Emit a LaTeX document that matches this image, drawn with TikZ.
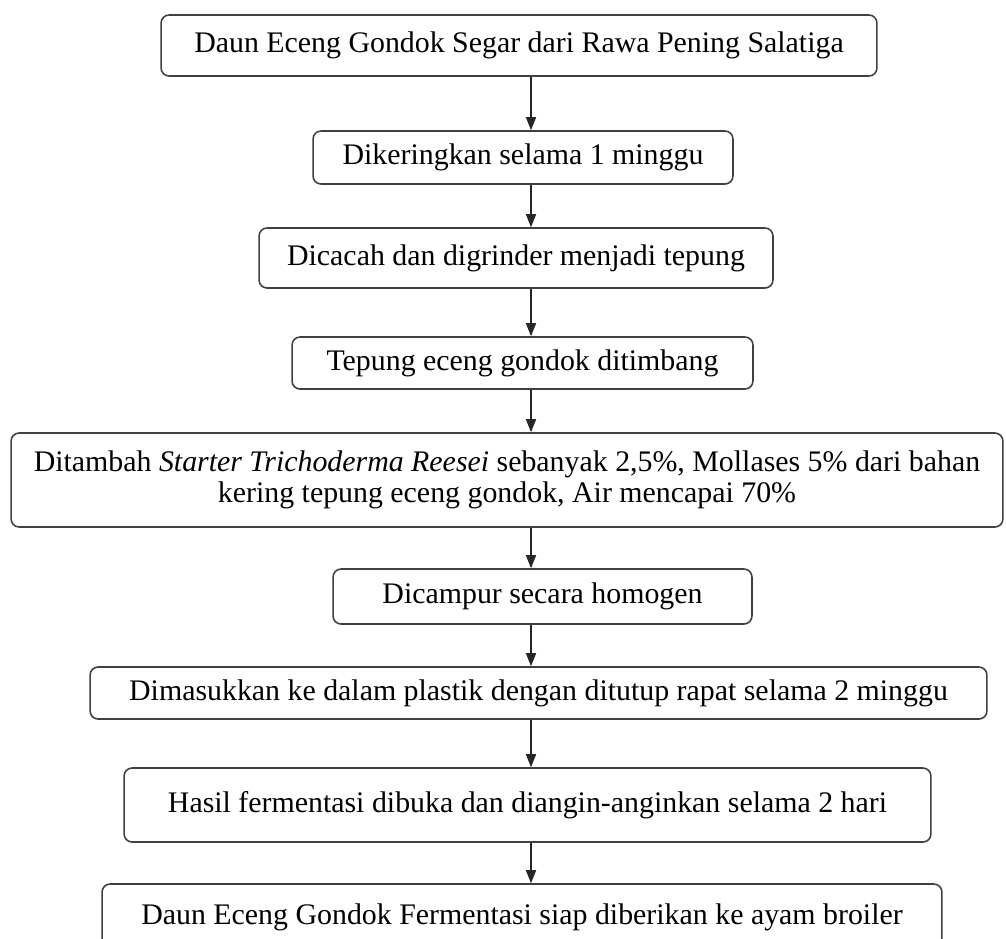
\documentclass[tikz,border=0pt]{standalone}
\usepackage{fontspec}
\setmainfont{Liberation Serif}
\usepackage{tikz}
\usetikzlibrary{arrows.meta,positioning}

\begin{document}
\begin{tikzpicture}[
  x=0.02cm, y=-0.02cm,
  box/.style={draw=black!75, line width=0.9pt, rounded corners=0.16cm, align=center,
    inner sep=0pt, font=\fontsize{17}{17.5}\selectfont},
  arrow/.style={-{Triangle[length=0.26cm, width=0.2cm]}, draw=black!85, line width=0.9pt}
]
\useasboundingbox (0,0) rectangle (1006,938);

\node[box, minimum width=14.32cm, minimum height=1.22cm] (segar) at (519,45.5)
  {Daun Eceng Gondok Segar dari Rawa Pening Salatiga};
\node[box, minimum width=8.40cm, minimum height=1.06cm] (kering) at (523,157.5)
  {Dikeringkan selama 1 minggu};
\node[box, minimum width=10.28cm, minimum height=1.20cm] (cacah) at (516,258)
  {Dicacah dan digrinder menjadi tepung};
\node[box, minimum width=9.22cm, minimum height=1.04cm] (timbang) at (522.5,363)
  {Tepung eceng gondok ditimbang};
\node[box, minimum width=19.84cm, minimum height=1.88cm] (tambah) at (507,480)
  {Ditambah \textit{Starter Trichoderma Reesei} sebanyak 2,5\%, Mollases 5\% dari bahan\\
   kering tepung eceng gondok, Air mencapai 70\%};
\node[box, minimum width=8.38cm, minimum height=1.10cm] (campur) at (542.5,596.5)
  {Dicampur secara homogen};
\node[box, minimum width=17.94cm, minimum height=1.04cm] (plastik) at (538.5,693)
  {Dimasukkan ke dalam plastik dengan ditutup rapat selama 2 minggu};
\node[box, minimum width=16.14cm, minimum height=1.48cm] (buka) at (527.5,805)
  {Hasil fermentasi dibuka dan diangin-anginkan selama 2 hari};
\node[box, minimum width=16.80cm, minimum height=1.32cm] (siap) at (522,917)
  {Daun Eceng Gondok Fermentasi siap diberikan ke ayam broiler};

% arrows down the middle
\coordinate (axis) at (531,0);
\foreach \a/\b in {segar/kering, kering/cacah, cacah/timbang, timbang/tambah,
                   tambah/campur, campur/plastik, plastik/buka, buka/siap}
  \draw[arrow] (\a.south -| axis) -- (\b.north -| axis);
\end{tikzpicture}
\end{document}
